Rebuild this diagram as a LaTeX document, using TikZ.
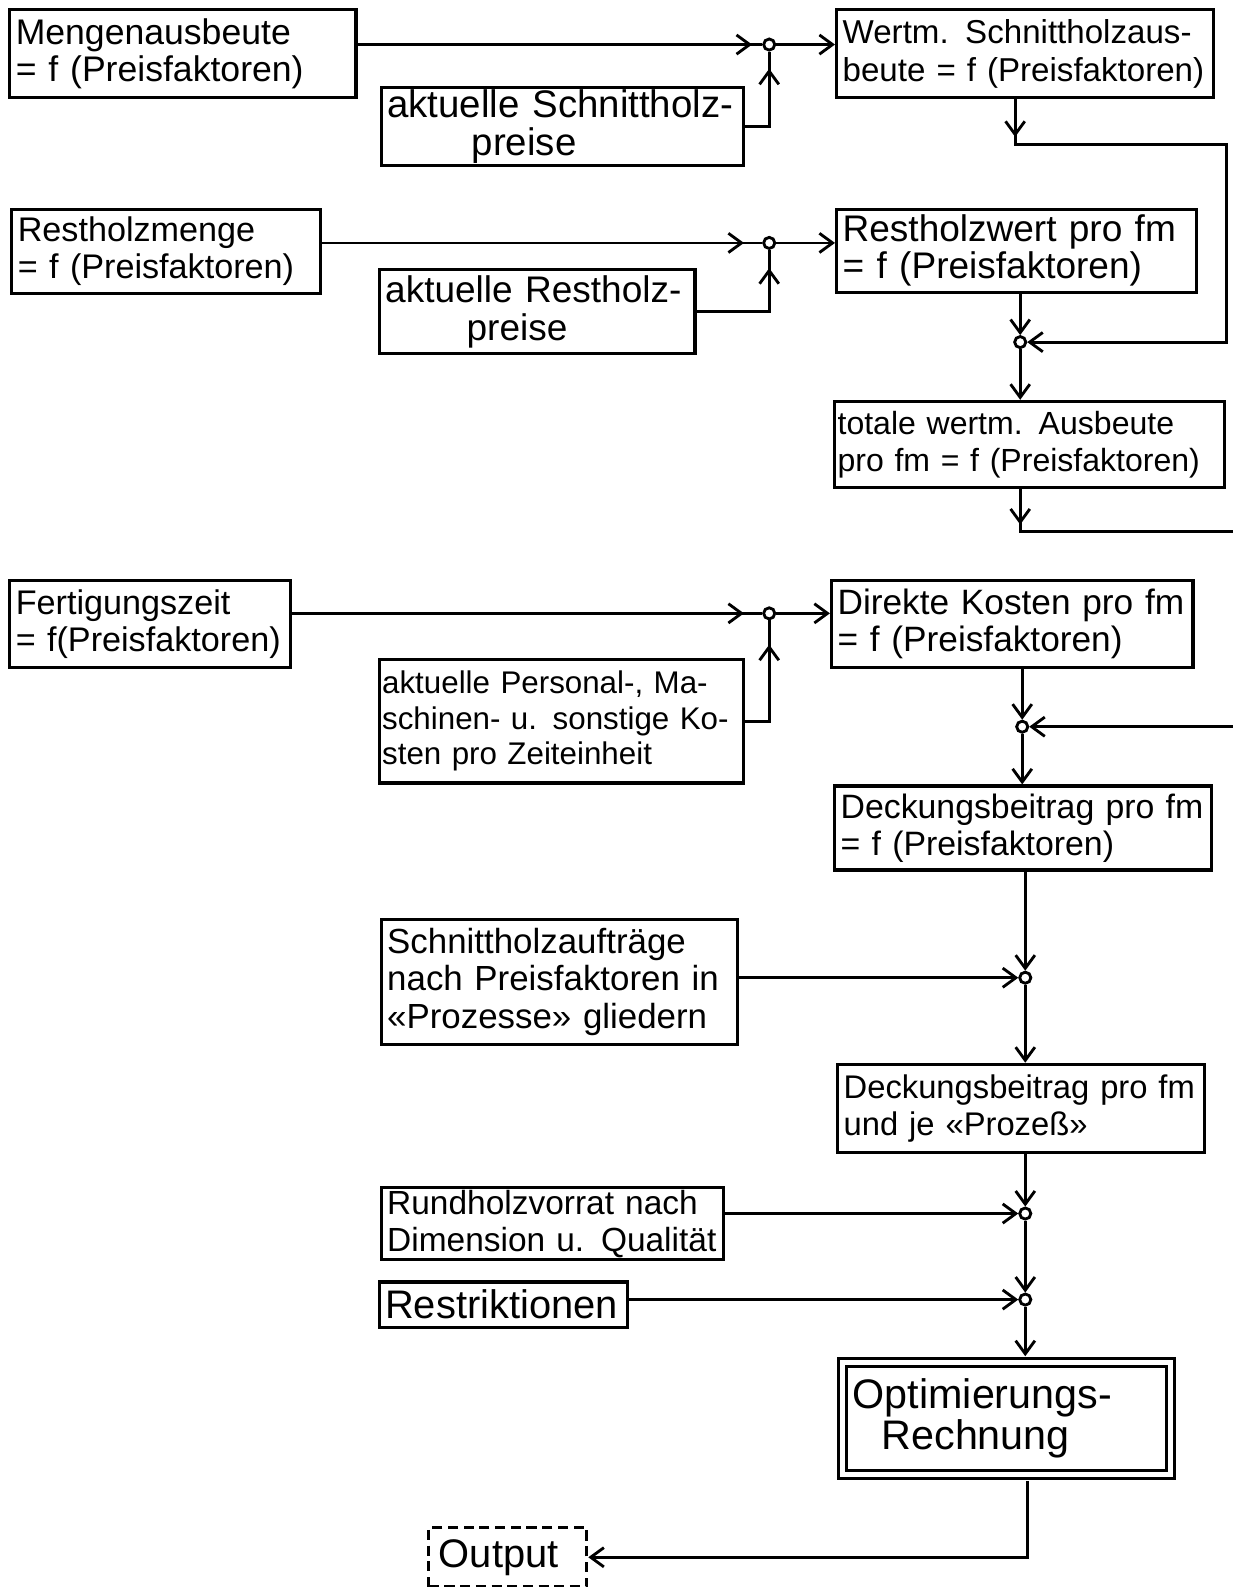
\documentclass[tikz,border=0pt]{standalone}
\usepackage{fontspec}
\setmainfont{Liberation Sans}
\usetikzlibrary{arrows.meta,decorations.markings}

\begin{document}
\begin{tikzpicture}[x=0.01cm, y=-0.01cm,
	blk/.style={draw, line width=0.9pt, anchor=north west, align=left, inner xsep=0.06cm, inner ysep=0pt},
	jn/.style={circle, draw, line width=0.8pt, inner sep=0pt, minimum size=0.11cm},
	arr/.style={-{Straight Barb[length=1.3mm,width=1.9mm]}},
	midarr/.style={postaction={decorate, decoration={markings, mark=at position #1 with {\arrow{Straight Barb[length=1.3mm,width=1.9mm]}}}}},
	fsz/.style={font=\fontsize{#1}{10.5}\selectfont}]
		\useasboundingbox (0,0) rectangle (1218,1568);
		% Boxes and junctions:
		\node[blk, fsz=10, text width=3.30cm, minimum height=0.87cm] (menge) at (8,8) {Mengenausbeute\\= f (Preisfaktoren)};
		\node[blk, fsz=10.8, text width=3.46cm, minimum height=0.77cm] (schpreise) at (375,85) {aktuelle Schnittholz-\\\hspace*{2.2em}preise};
		\node[blk, fsz=9.3, text width=3.60cm, minimum height=0.87cm] (wert) at (825,8) {Wertm. Schnittholzaus-\\beute = f (Preisfaktoren)};
		\node[blk, fsz=9.6, text width=2.93cm, minimum height=0.83cm] (restmenge) at (10,205) {Restholzmenge\\= f (Preisfaktoren)};
		\node[blk, fsz=10.4, text width=3.00cm, minimum height=0.83cm] (rpreise) at (373,265) {aktuelle Restholz-\\\hspace*{2.2em}preise};
		\node[blk, fsz=10.4, text width=3.43cm, minimum height=0.82cm] (rwert) at (825,205) {Restholzwert pro fm\\= f (Preisfaktoren)};
		\node[blk, fsz=9, inner xsep=0.03cm, text width=3.79cm, minimum height=0.85cm] (total) at (823,395) {totale wertm. Ausbeute\\pro fm = f (Preisfaktoren)};
		\node[blk, fsz=9.6, text width=2.65cm, minimum height=0.86cm] (fertig) at (8,572) {Fertigungszeit\\= f(Preisfaktoren)};
		\node[blk, font=\fontsize{8.8}{10}\selectfont, inner xsep=0.03cm, text width=3.54cm, minimum height=1.22cm] (kosten) at (373,650) {aktuelle Personal-, Ma-\\schinen- u. sonstige Ko-\\sten pro Zeiteinheit};
		\node[blk, fsz=9.9, text width=3.45cm, minimum height=0.86cm] (direkt) at (820,572) {Direkte Kosten pro fm\\= f (Preisfaktoren)};
		\node[blk, fsz=9.5, text width=3.60cm, minimum height=0.83cm] (deck1) at (823,775) {Deckungsbeitrag pro fm\\= f (Preisfaktoren)};
		\node[blk, fsz=9.8, text width=3.40cm, minimum height=1.23cm] (auftr) at (375,907) {Schnittholzaufträge\\nach Preisfaktoren in\\«Prozesse» gliedern};
		\node[blk, fsz=9.2, text width=3.50cm, minimum height=0.87cm] (deck2) at (826,1050) {Deckungsbeitrag pro fm\\und je «Prozeß»};
		\node[blk, fsz=9.4, text width=3.26cm, minimum height=0.71cm] (rund) at (375,1172) {Rundholzvorrat nach\\Dimension u. Qualität};
		\node[blk, fsz=11.2, text width=2.33cm, minimum height=0.45cm] (restr) at (373,1265) {Restriktionen};
		\node[blk, font=\fontsize{11.6}{11.4}\selectfont, double, double distance=0.5mm, line width=0.8pt, outer sep=0.65mm, inner xsep=0.1cm, text width=3.04cm, minimum height=1.10cm] (opt) at (826,1340) {Optimierungs-\\\hspace*{0.7em}Rechnung};
		\node[blk, fsz=11.2, dash pattern=on 1mm off 0.55mm, inner xsep=0.1cm, text width=1.36cm, minimum height=0.58cm] (output) at (422,1508) {Output};
		\node[jn] (j1) at (760,44) {};
		\node[jn] (j2) at (760,240) {};
		\node[jn] (j3) at (1008,338) {};
		\node[jn] (j4) at (760,606) {};
		\node[jn] (j5) at (1010,718) {};
		\node[jn] (j6) at (1013,966) {};
		\node[jn] (j7) at (1013,1199) {};
		\node[jn] (j8) at (1013,1284) {};
		\coordinate (wbend) at (1003,143);
		\coordinate (rloop1) at (1212,143);
		\coordinate (rloop2) at (1226,525);
		\coordinate (obend) at (1015,1540);
		% Connectors:
		\draw[line width=0.8pt, midarr=-0.1cm] (menge.east |- j1) -- (j1);
		\draw[line width=0.8pt, arr] (j1) -- (wert.west |- j1);
		\draw[line width=0.8pt, midarr=-0.17cm] (schpreise.east) -| (j1);
		\draw[line width=0.8pt, arr, midarr=0.37cm] (wert.south -| wbend) -- (wbend) -- (rloop1) |- (j3);
		\draw[line width=0.8pt, midarr=-0.18cm] (restmenge.east |- j2) -- (j2);
		\draw[line width=0.8pt, arr] (j2) -- (rwert.west |- j2);
		\draw[line width=0.8pt, midarr=-0.18cm] (rpreise.east) -| (j2);
		\draw[line width=0.8pt, arr] (rwert.south -| j3) -- (j3);
		\draw[line width=0.8pt, arr] (j3) -- (total.north -| j3);
		\draw[line width=0.8pt, arr, midarr=0.35cm] (total.south -| j3) |- (rloop2) |- (j5);
		\draw[line width=0.8pt, midarr=-0.18cm] (fertig.east |- j4) -- (j4);
		\draw[line width=0.8pt, arr] (j4) -- (direkt.west |- j4);
		\draw[line width=0.8pt, midarr=-0.24cm] (kosten.east) -| (j4);
		\draw[line width=0.8pt, arr] (direkt.south -| j5) -- (j5);
		\draw[line width=0.8pt, arr] (j5) -- (deck1.north -| j5);
		\draw[line width=0.8pt, arr] (deck1.south -| j6) -- (j6);
		\draw[line width=0.8pt, arr] (auftr.east |- j6) -- (j6);
		\draw[line width=0.8pt, arr] (j6) -- (deck2.north -| j6);
		\draw[line width=0.8pt, arr] (deck2.south -| j7) -- (j7);
		\draw[line width=0.8pt, arr] (rund.east |- j7) -- (j7);
		\draw[line width=0.8pt, arr] (j7) -- (j8);
		\draw[line width=0.8pt, arr] (restr.east |- j8) -- (j8);
		\draw[line width=0.8pt, arr] (j8) -- (opt.north -| j8);
		\draw[line width=0.8pt, arr] (opt.south -| obend) |- (output.east);
\end{tikzpicture}
\end{document}
